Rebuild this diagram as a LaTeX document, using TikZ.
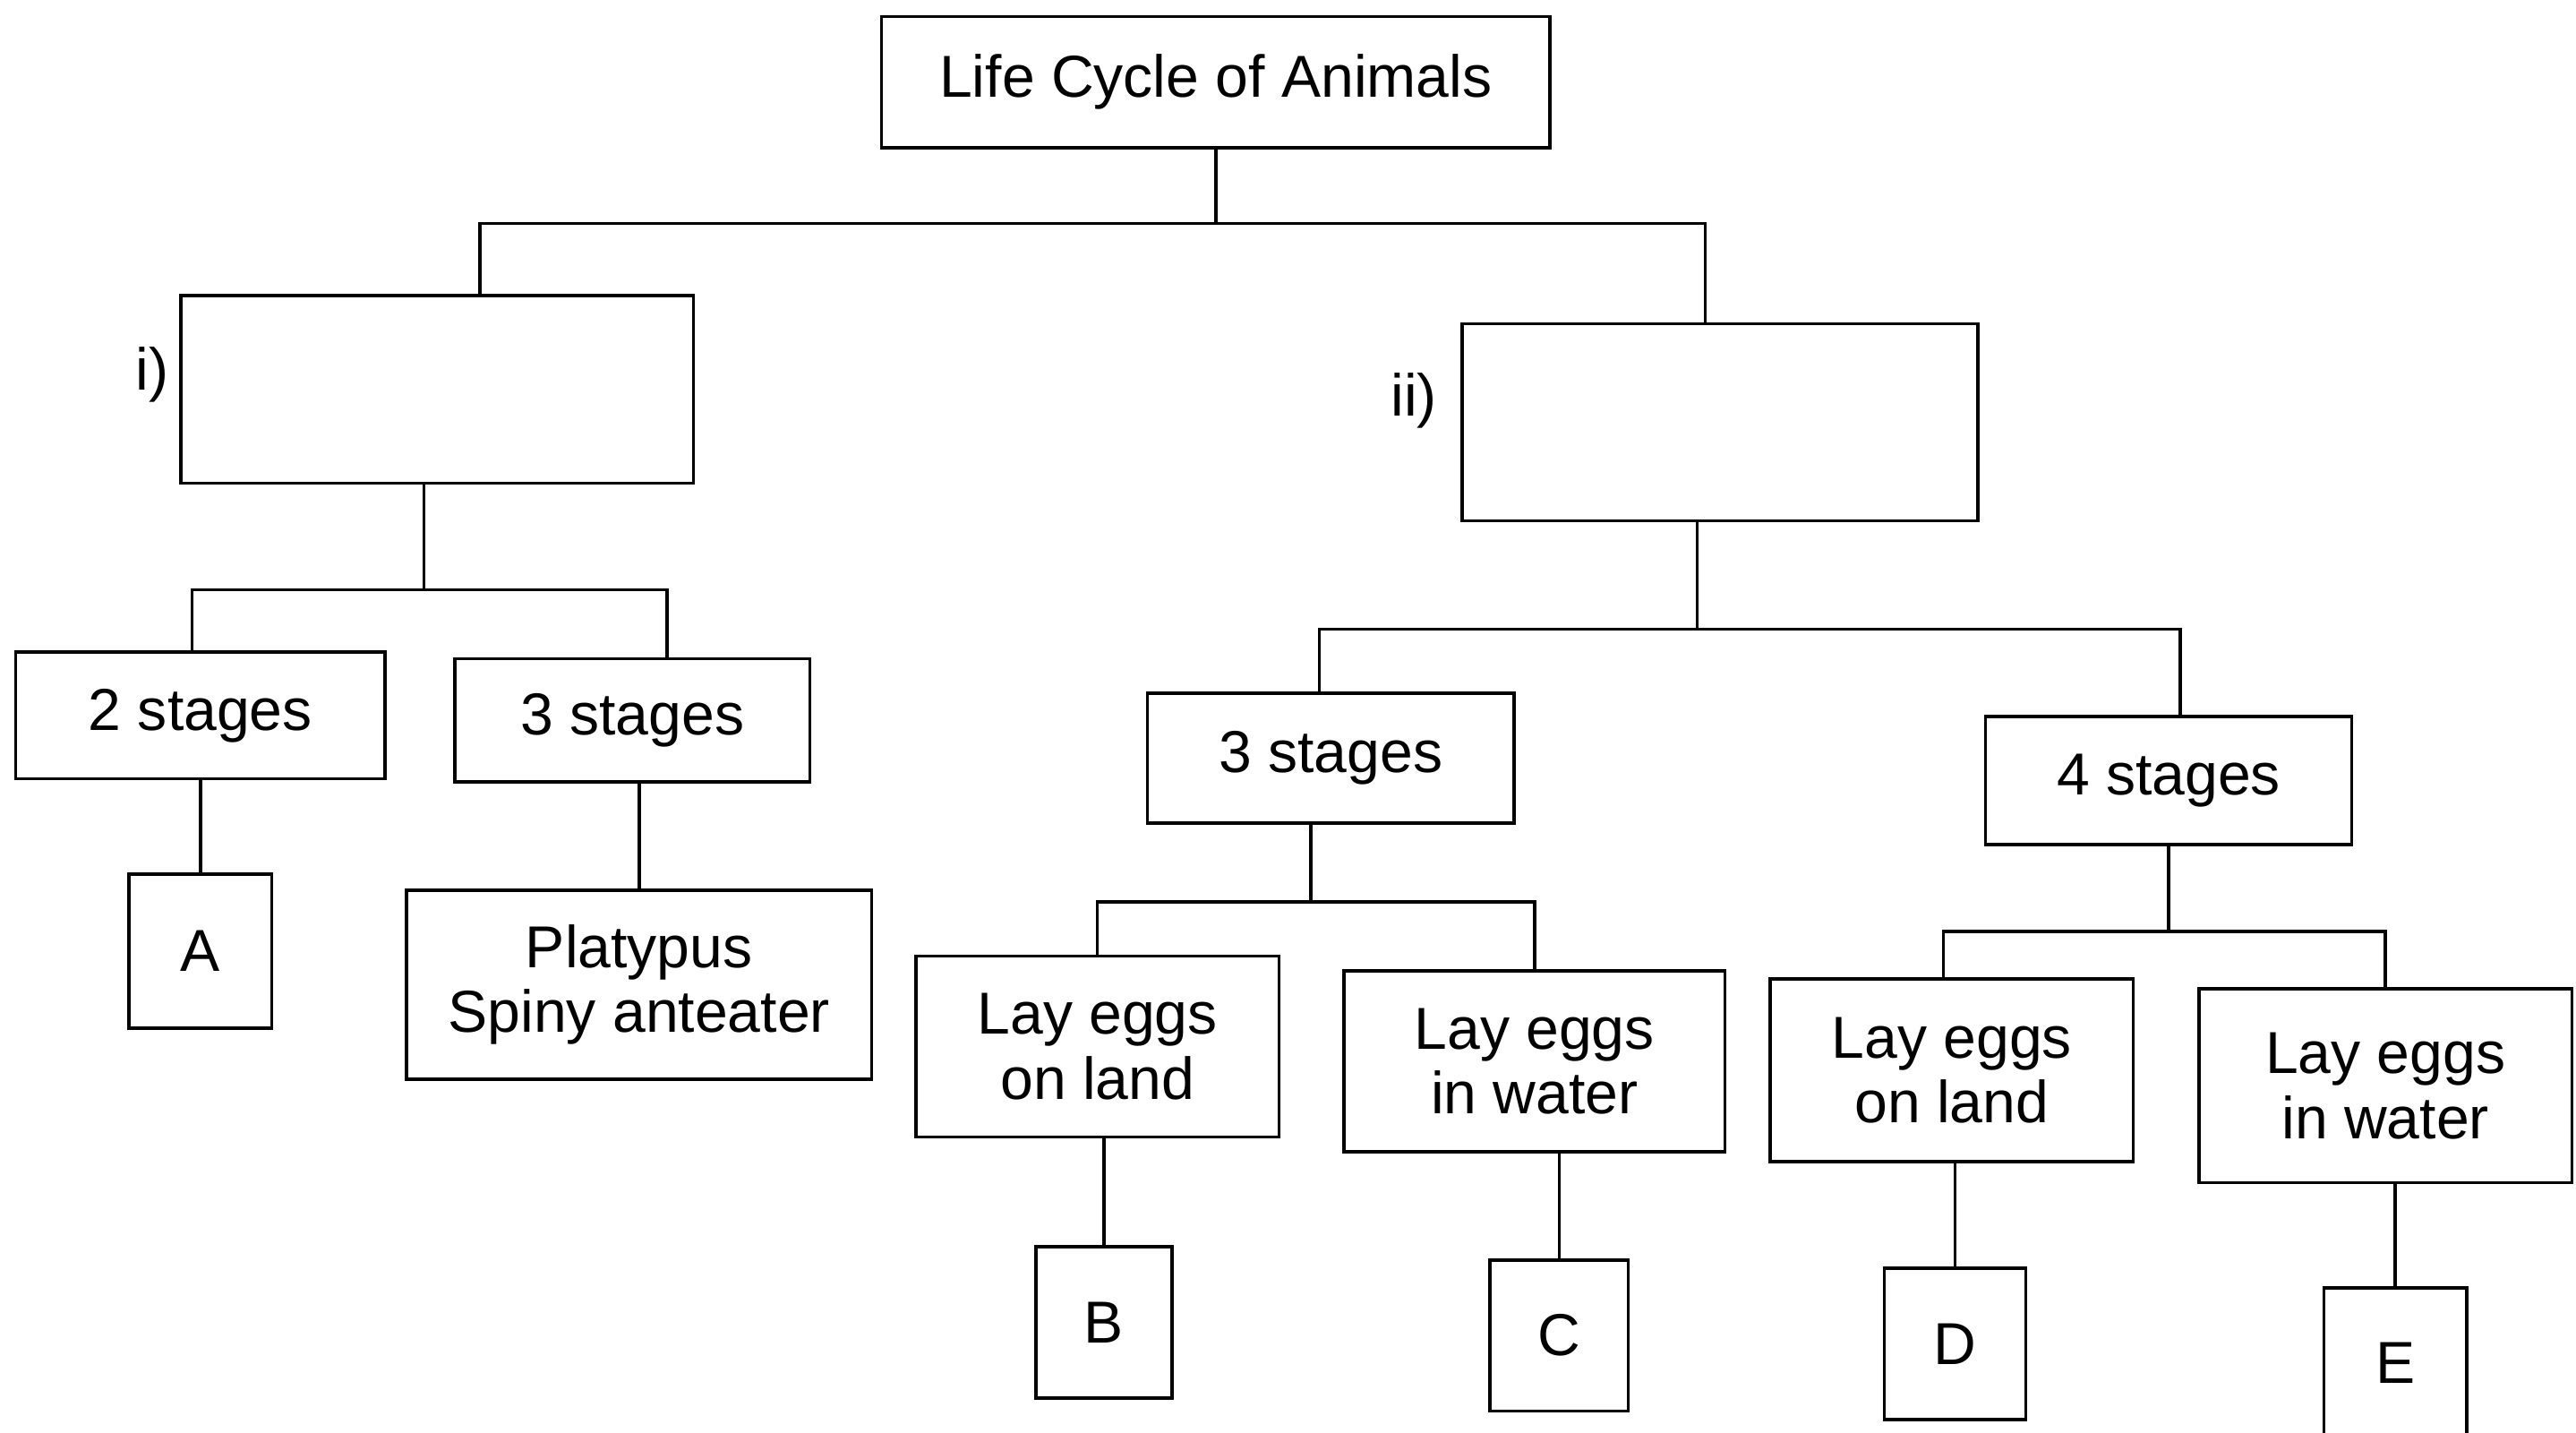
\documentclass[tikz,border=0pt]{standalone}
\usepackage{fontspec}
\setmainfont{Liberation Sans}
\usepackage{tikz}
\usetikzlibrary{positioning}

\begin{document}
\begin{tikzpicture}[
    node distance=1.5cm,
    box/.style={draw, line width=1.1pt, align=center, inner sep=2pt,
                font=\fontsize{20.5}{22.5}\selectfont},
    lbl/.style={inner sep=0pt, font=\fontsize{20.5}{22.5}\selectfont},
    link/.style={line width=1.1pt},
  ]
  \useasboundingbox (0,0) rectangle (31.36,-17.44);

  % top of the tree
  \node[box, minimum width=8.14cm, minimum height=1.6cm] (root) at (14.8,-1.0)
    {Life Cycle of Animals};
  \node[box, below=1.76cm of root, xshift=-9.48cm, minimum width=6.24cm,
        minimum height=2.28cm] (ci) {};
  \node[box, below=2.1cm of root, xshift=6.14cm, minimum width=6.28cm,
        minimum height=2.4cm] (cii) {};
  \node[lbl, left=0.12cm of ci, yshift=0.18cm] (lbli) {i)};
  \node[lbl, left=0.28cm of cii, yshift=0.26cm] (lblii) {ii)};

  % left branch
  \node[box, below=2.02cm of ci, xshift=-2.88cm, minimum width=4.5cm,
        minimum height=1.54cm] (twostg) {2 stages};
  \node[box, below=2.1cm of ci, xshift=2.38cm, minimum width=4.32cm,
        minimum height=1.5cm] (thrstgl) {3 stages};
  \node[box, below=1.12cm of twostg, minimum width=1.74cm,
        minimum height=1.88cm] (a) {A};
  \node[box, below=1.28cm of thrstgl, xshift=0.08cm, minimum width=5.66cm,
        minimum height=2.3cm] (platy) {Platypus\\Spiny anteater};

  % right branch
  \node[box, below=2.06cm of cii, xshift=-4.74cm, minimum width=4.46cm,
        minimum height=1.58cm] (thrstgr) {3 stages};
  \node[box, below=2.34cm of cii, xshift=5.46cm, minimum width=4.46cm,
        minimum height=1.56cm] (fourstg) {4 stages};
  \node[box, below=1.58cm of thrstgr, xshift=-2.84cm, minimum width=4.42cm,
        minimum height=2.2cm] (landa) {Lay eggs\\on land};
  \node[box, below=1.76cm of thrstgr, xshift=2.48cm, minimum width=4.64cm,
        minimum height=2.2cm] (watera) {Lay eggs\\in water};
  \node[box, below=1.6cm of fourstg, xshift=-2.64cm, minimum width=4.42cm,
        minimum height=2.22cm] (landb) {Lay eggs\\on land};
  \node[box, below=1.72cm of fourstg, xshift=2.64cm, minimum width=4.54cm,
        minimum height=2.36cm] (waterb) {Lay eggs\\in water};
  \node[box, below=1.3cm of landa, xshift=0.08cm, minimum width=1.66cm,
        minimum height=1.84cm] (b) {B};
  \node[box, below=1.28cm of watera, xshift=0.3cm, minimum width=1.68cm,
        minimum height=1.84cm] (c) {C};
  \node[box, below=1.26cm of landb, xshift=0.04cm, minimum width=1.72cm,
        minimum height=1.84cm] (d) {D};
  \node[box, below=1.24cm of waterb, xshift=0.12cm, minimum width=1.74cm,
        minimum height=1.82cm] (e) {E};

  % connectors
  \draw[link] (root.south) -- ++(0,-0.9) -| ([xshift=0.52cm]ci.north);
  \draw[link] (root.south) -- ++(0,-0.9) -| ([xshift=-0.18cm]cii.north);
  \draw[link] ([xshift=-0.16cm]ci.south) -- ++(0,-1.28) -| ([xshift=-0.1cm]twostg.north);
  \draw[link] ([xshift=-0.16cm]ci.south) -- ++(0,-1.28) -| ([xshift=0.42cm]thrstgl.north);
  \draw[link] (a.north) -- (a.north |- twostg.south);
  \draw[link] (platy.north) -- (platy.north |- thrstgl.south);
  \draw[link] ([xshift=-0.28cm]cii.south) -- ++(0,-1.3) -| ([xshift=-0.14cm]thrstgr.north);
  \draw[link] ([xshift=-0.28cm]cii.south) -- ++(0,-1.3) -| ([xshift=0.14cm]fourstg.north);
  \draw[link] ([xshift=-0.24cm]thrstgr.south) -- ++(0,-0.94) -| (landa.north);
  \draw[link] ([xshift=-0.24cm]thrstgr.south) -- ++(0,-0.94) -| (watera.north);
  \draw[link] (fourstg.south) -- ++(0,-1.04) -| ([xshift=-0.1cm]landb.north);
  \draw[link] (fourstg.south) -- ++(0,-1.04) -| (waterb.north);
  \draw[link] (b.north) -- (b.north |- landa.south);
  \draw[link] (c.north) -- (c.north |- watera.south);
  \draw[link] (d.north) -- (d.north |- landb.south);
  \draw[link] (e.north) -- (e.north |- waterb.south);
\end{tikzpicture}
\end{document}
